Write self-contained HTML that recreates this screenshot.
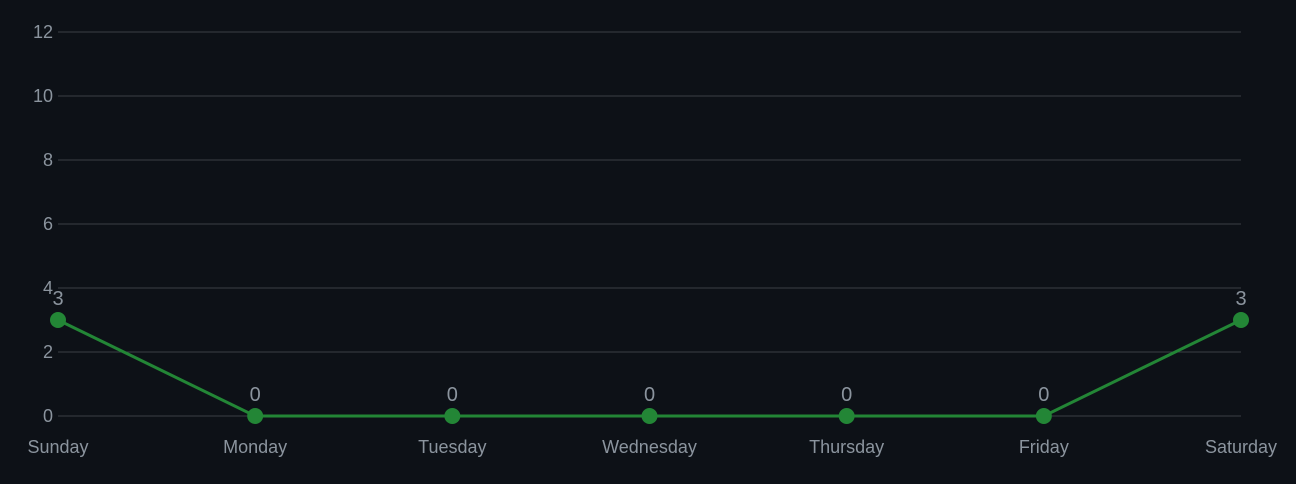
<!DOCTYPE html>
<html><head><meta charset="utf-8"><style>
html,body{margin:0;padding:0;background:#0d1117;}
svg{display:block;font-family:"Liberation Sans",sans-serif;}
</style></head><body>
<svg id="chart" width="1296" height="484"></svg>
<script>
const categories=["Sunday","Monday","Tuesday","Wednesday","Thursday","Friday","Saturday"];
const values=[3,0,0,0,0,0,3];
const yTicks=[0,2,4,6,8,10,12];
const NS="http://www.w3.org/2000/svg";
const svg=document.getElementById('chart');
const x0=58,x1=1241,yb=416,yt=32,yMax=12;
const xs=i=>x0+(x1-x0)*i/(categories.length-1);
const ys=v=>yb-(yb-yt)*v/yMax;
function mk(t,a){const e=document.createElementNS(NS,t);for(const k in a)e.setAttribute(k,a[k]);svg.appendChild(e);return e;}
yTicks.forEach(t=>{
  const g=mk('line',{x1:x0,x2:x1,y1:ys(t),y2:ys(t),stroke:'#3a3f46','stroke-width':1});
  
  
  const l=mk('text',{x:53,y:ys(t)+6,'text-anchor':'end',fill:'#8b949e','font-size':18});
  l.textContent=t;
  
  
});
categories.forEach((c,i)=>{
  const l=mk('text',{x:xs(i),y:453,'text-anchor':'middle',fill:'#8b949e','font-size':18});
  l.textContent=c;
  
  
});
const pl=mk('polyline',{points:values.map((v,i)=>xs(i)+','+ys(v)).join(' '),fill:'none',stroke:'#238636','stroke-width':3});


values.forEach((v,i)=>{
  const c=mk('circle',{cx:xs(i),cy:ys(v),r:8,fill:'#238636'});
  
  
  const t=mk('text',{x:xs(i),y:ys(v)-15,'text-anchor':'middle',fill:'#8b949e','font-size':20});
  t.textContent=v;
  
  
});
</script>
</body></html>
